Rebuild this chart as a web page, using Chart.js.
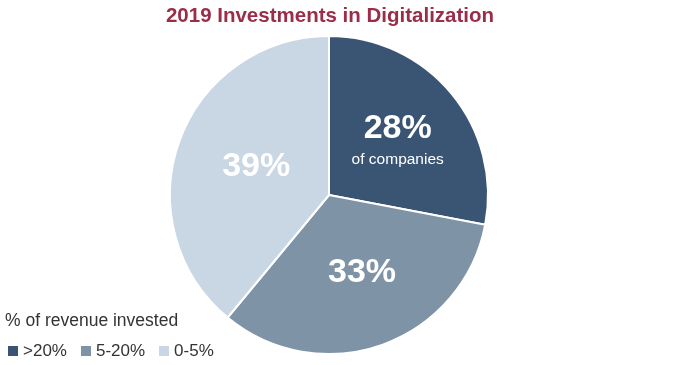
<!DOCTYPE html>
<html>
<head>
<meta charset="utf-8">
<script src="https://cdn.jsdelivr.net/npm/chart.js@4"></script>
<style>
  body { margin: 0; background: #fff; font-family: 'Liberation Sans', Arial, sans-serif; }
  .wrap { position: relative; width: 680px; height: 365px; }
  #chart { position: absolute; left: 0; top: 0; }
  .title { position: absolute; left: 0; width: 660px; top: 3px; text-align: center; font-weight: bold; font-size: 20.5px; color: #9a2d48; }
  .legend-title { position: absolute; left: 5px; top: 310px; font-size: 17.5px; color: #333; }
  .legend { position: absolute; left: 8px; top: 341px; font-size: 17px; color: #333; display: flex; }
  .legend span.item { display: flex; align-items: center; margin-right: 14px; }
  .legend i { display: inline-block; width: 10px; height: 10px; margin-right: 5px; }
</style>
</head>
<body>
<div class="wrap">
  <canvas id="chart" width="680" height="365"></canvas>
  <div class="title">2019 Investments in Digitalization</div>
  <div class="legend-title">% of revenue invested</div>
  <div class="legend" id="legend"></div>
</div>
<script>
const categories = ['>20%', '5-20%', '0-5%']
const shares = [28, 33, 39]
const colors = ['#3a5573', '#7f93a7', '#c9d6e4']

const legend = document.getElementById('legend')
categories.forEach((c, i) => {
  const s = document.createElement('span')
  s.className = 'item'
  s.innerHTML = '<i style="background:' + colors[i] + '"></i>' + c
  legend.appendChild(s)
})

// percentage labels drawn inside each slice
const sliceLabels = {
  id: 'sliceLabels',
  afterDatasetsDraw(chart) {
    const ctx = chart.ctx
    const arcs = chart.getDatasetMeta(0).data
    ctx.save()
    ctx.fillStyle = '#fff'
    ctx.textAlign = 'center'
    ctx.textBaseline = 'middle'
    arcs.forEach((arc, i) => {
      const mid = (arc.startAngle + arc.endAngle) / 2
      const r = arc.outerRadius * 0.52
      const x = arc.x + Math.cos(mid) * r + 5
      const y = arc.y + Math.sin(mid) * r
      ctx.font = 'bold 34px "Liberation Sans", Arial, sans-serif'
      if (i === 0) {
        ctx.fillText(shares[i] + '%', x, y - 14)
        ctx.font = '15.5px "Liberation Sans", Arial, sans-serif'
        ctx.fillText('of companies', x, y + 17)
      } else {
        ctx.fillText(shares[i] + '%', x, y)
      }
    })
    ctx.restore()
  }
}

new Chart(document.getElementById('chart'), {
  type: 'pie',
  plugins: [sliceLabels],
  data: {
    labels: categories,
    datasets: [{
      data: shares,
      backgroundColor: colors,
      borderColor: '#fff',
      borderWidth: 2
    }]
  },
  options: {
    responsive: false,
    animation: false,
    layout: { padding: { left: 169, right: 191, top: 35, bottom: 10 } },
    plugins: {
      legend: { display: false },
      tooltip: { enabled: false }
    }
  }
})
</script>
</body>
</html>
